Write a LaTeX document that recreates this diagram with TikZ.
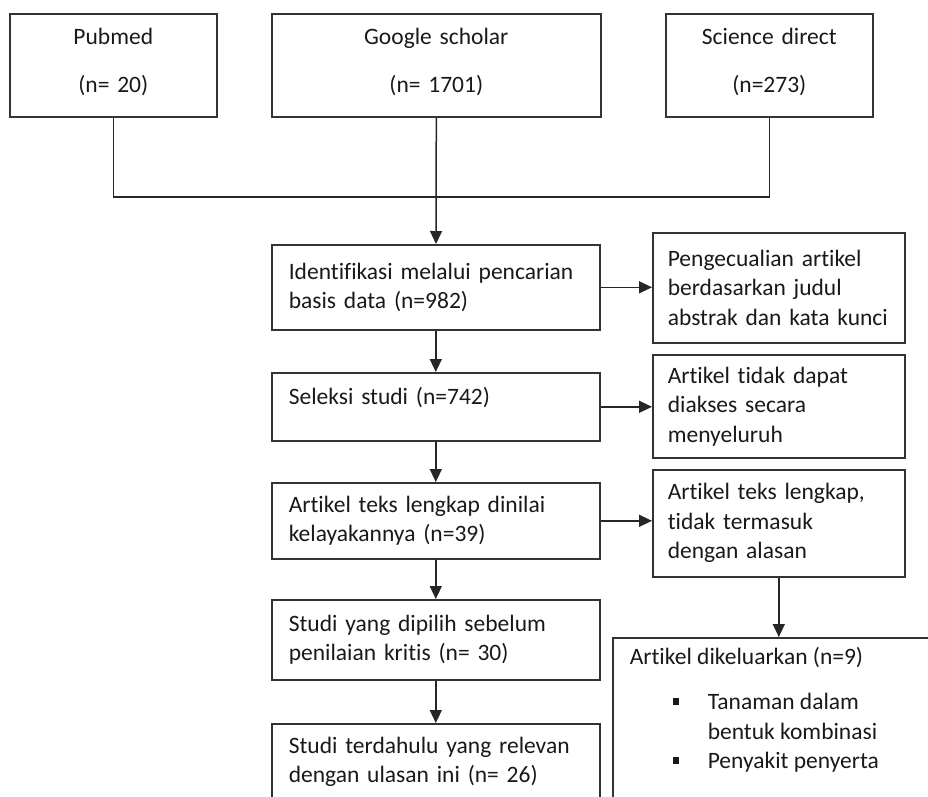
\documentclass[tikz,border=0pt]{standalone}
\usepackage{fontspec}
\setmainfont{Carlito}[Ligatures=NoCommon]
\usetikzlibrary{arrows.meta}
\tikzstyle{box}=[draw=black!80,line width=1.6pt,rectangle,inner xsep=17pt,inner ysep=0pt,align=left,text=black!90,font=\fontsize{23.5}{29.5}\selectfont]
\tikzstyle{srcbox}=[box,align=center]
\tikzstyle{plain}=[draw=black!85,line width=1.5pt]
\tikzstyle{link}=[plain,-{Triangle[length=13pt,width=12pt]}]
\newcommand{\bsq}{\raisebox{5pt}{\rule{6.5pt}{6.5pt}}}

\begin{document}
\begin{tikzpicture}[x=1pt,y=-1pt]
    \useasboundingbox (0,0) rectangle (928,796);
    \node[srcbox,anchor=north west,minimum width=207pt,minimum height=103pt,text width=173pt] (pubmed) at (9,13) {Pubmed\\[18.5pt](n= 20)\\[-20pt]\mbox{}};
    \node[srcbox,anchor=north west,minimum width=329pt,minimum height=103pt,text width=295pt] (google) at (271,13) {Google scholar\\[18.5pt](n= 1701)\\[-20pt]\mbox{}};
    \node[srcbox,anchor=north west,minimum width=207pt,minimum height=103pt,text width=173pt] (science) at (665,13) {Science direct\\[18.5pt](n=273)\\[-20pt]\mbox{}};
    \coordinate (join) at (436,197);
    \draw[plain] (pubmed.south) |- (join) -| (science.south);
    \draw[link] (google.south) -- (436,244);

    \node[box,anchor=north west,minimum width=328pt,minimum height=85pt,text width=294pt] (ident) at (271,244) {Identifikasi melalui pencarian\\basis data (n=982)};
    \node[box,anchor=north west,inner xsep=15pt,minimum width=252pt,minimum height=110pt,text width=222pt] (peng) at (652,232) {Pengecualian artikel\\berdasarkan judul\\\mbox{abstrak dan kata kunci}};
    \node[box,anchor=north west,minimum width=328pt,minimum height=68pt,text width=294pt] (seleksi) at (271,372) {Seleksi studi (n=742)\\[-8pt]\mbox{}};
    \node[box,anchor=north west,inner xsep=15pt,minimum width=252pt,minimum height=103pt,text width=222pt] (akses) at (652,354) {Artikel tidak dapat\\diakses secara\\menyeluruh};
    \node[box,anchor=north west,minimum width=328pt,minimum height=76pt,text width=294pt] (layak) at (271,482) {Artikel teks lengkap dinilai\\kelayakannya (n=39)};
    \node[box,anchor=north west,inner xsep=15pt,minimum width=252pt,minimum height=107pt,text width=222pt] (alasan) at (652,469) {Artikel teks lengkap,\\tidak termasuk\\dengan alasan};
    \node[box,anchor=north west,minimum width=328pt,minimum height=80pt,text width=294pt] (dipilih) at (271,599) {Studi yang dipilih sebelum\\penilaian kritis (n= 30)};
    \node[box,anchor=north west,minimum width=328pt,minimum height=76pt,text width=294pt] (terdahulu) at (271,723) {Studi terdahulu yang relevan\\dengan ulasan ini (n= 26)};
    \node[box,anchor=north west,minimum width=340pt,minimum height=200pt] (keluar) at (612,637) {};
    \node[box,draw=none,anchor=north west,inner sep=0pt] (keluartext) at (629,646) {Artikel dikeluarkan (n=9)\\[16pt]
        \hspace*{43pt}\makebox[35pt][l]{\bsq}Tanaman dalam\\
        \hspace*{78pt}bentuk kombinasi\\
        \hspace*{43pt}\makebox[35pt][l]{\bsq}Penyakit penyerta};

    \draw[link] (ident.south) -- (seleksi.north);
    \draw[link] (seleksi.south) -- (layak.north);
    \draw[link] (layak.south) -- (dipilih.north);
    \draw[link] (dipilih.south) -- (terdahulu.north);
    \draw[link] (ident.east) -- (ident.east -| peng.west);
    \draw[link] (seleksi.east) -- (seleksi.east -| akses.west);
    \draw[link] (layak.east) -- (layak.east -| alasan.west);
    \draw[link] (alasan.south) -- (alasan.south |- keluar.north);
\end{tikzpicture}
\end{document}
